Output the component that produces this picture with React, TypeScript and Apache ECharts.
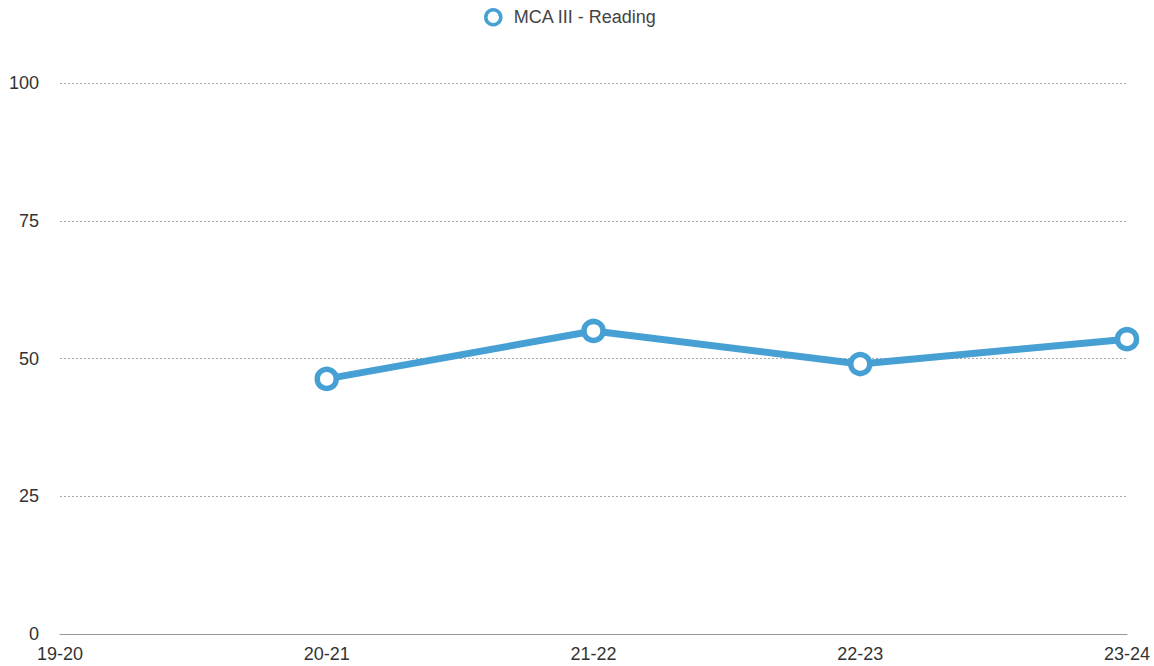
import React, { useEffect, useRef } from "react";
import * as echarts from "echarts";

const categories = ["19-20", "20-21", "21-22", "22-23", "23-24"];
const readingValues: (number | null)[] = [null, 46.3, 55.0, 49.0, 53.5];
const yTicks = [0, 25, 50, 75, 100];
const seriesName = "MCA III - Reading";
const lineColor = "#47a0d4";
const font = "Liberation Sans, Arial, sans-serif";

export default function App() {
  const ref = useRef<HTMLDivElement>(null);
  useEffect(() => {
    if (!ref.current) return;
    const chart = echarts.init(ref.current, null, { renderer: "svg" });
    chart.setOption({
      animation: false,
      legend: {
        top: 3,
        left: 479,
        icon: "circle",
        itemWidth: 15,
        itemHeight: 15,
        itemStyle: { color: "#fff", borderColor: lineColor, borderWidth: 3.5 },
        textStyle: { fontSize: 18, color: "#444", fontFamily: font, padding: [0, 0, 0, 8] },
        data: [seriesName],
      },
      grid: { left: 60, right: 27, top: 83, bottom: 32, containLabel: false },
      xAxis: {
        type: "category",
        data: categories,
        boundaryGap: false,
        axisLine: { lineStyle: { color: "#999", width: 1 } },
        axisTick: { show: false },
        axisLabel: { fontSize: 18, color: "#333", margin: 11, fontFamily: font },
        splitLine: { show: false },
      },
      yAxis: {
        type: "value",
        min: yTicks[0],
        max: yTicks[yTicks.length - 1],
        interval: 25,
        axisLine: { show: false },
        axisTick: { show: false },
        axisLabel: { fontSize: 18, color: "#333", margin: 21, fontFamily: font },
        splitLine: { lineStyle: { color: "#aaa", type: [2, 2], width: 1 } },
      },
      series: [
        {
          name: seriesName,
          type: "line",
          data: readingValues,
          connectNulls: false,
          lineStyle: { color: lineColor, width: 7 },
          symbol: "circle",
          symbolSize: 19,
          itemStyle: { color: "#fff", borderColor: lineColor, borderWidth: 5.5 },
        },
      ],
    });
    return () => chart.dispose();
  }, []);
  return <div ref={ref} style={{ width: 1154, height: 666, position: "absolute", left: 0, top: 0 }} />;
}
